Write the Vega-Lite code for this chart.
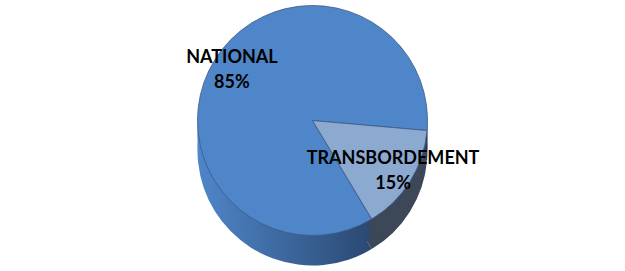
{
  "$schema": "https://vega.github.io/schema/vega-lite/v6.json",
  "width": 625,
  "height": 271,
  "autosize": {"type": "fit", "contains": "padding"},
  "padding": 0,
  "background": "white",
  "config": {"view": {"stroke": null}},
  "data": {"values": [
    {"category": "NATIONAL", "share": 0.85},
    {"category": "TRANSBORDEMENT", "share": 0.15}
  ]},
  "encoding": {
    "theta": {"field": "share", "type": "quantitative", "stack": true, "scale": {"range": [-3.6826, 2.6005]}},
    "order": {"field": "category"}
  },
  "layer": [
    {
      "mark": {"type": "arc", "radius": 115, "yOffset": 15},
      "encoding": {"color": {"condition": {"test": "datum.category === 'NATIONAL'", "value": {"gradient": "linear", "x1": 0, "x2": 1, "y1": 0, "y2": 0, "stops": [{"offset": 0, "color": "#4F86C9"}, {"offset": 1, "color": "#1F3556"}]}}, "value": "#3C4758"}}
    },
    {
      "mark": {"type": "arc", "radius": 115, "yOffset": 5},
      "encoding": {"color": {"condition": {"test": "datum.category === 'NATIONAL'", "value": {"gradient": "linear", "x1": 0, "x2": 1, "y1": 0, "y2": 0, "stops": [{"offset": 0, "color": "#4F86C9"}, {"offset": 1, "color": "#1F3556"}]}}, "value": "#3C4758"}}
    },
    {
      "mark": {"type": "arc", "radius": 115, "yOffset": -5},
      "encoding": {"color": {"condition": {"test": "datum.category === 'NATIONAL'", "value": {"gradient": "linear", "x1": 0, "x2": 1, "y1": 0, "y2": 0, "stops": [{"offset": 0, "color": "#4F86C9"}, {"offset": 1, "color": "#1F3556"}]}}, "value": "#3C4758"}}
    },
    {
      "mark": {"type": "arc", "radius": 115, "yOffset": -15, "stroke": "#3d5a85", "strokeWidth": 0.8},
      "encoding": {"color": {"field": "category", "type": "nominal", "scale": {"domain": ["NATIONAL", "TRANSBORDEMENT"], "range": ["#4F86C9", "#8CA9D0"]}, "legend": null}}
    },
    {
      "mark": {"type": "text", "radius": 95, "yOffset": -27, "font": "Lato", "fontWeight": "bold", "fontSize": 18, "color": "#000000"},
      "encoding": {"text": {"field": "category"}}
    },
    {
      "mark": {"type": "text", "radius": 95, "yOffset": -2, "font": "Lato", "fontWeight": "bold", "fontSize": 18, "color": "#000000"},
      "encoding": {"text": {"field": "share", "format": ".0%"}}
    }
  ]
}
